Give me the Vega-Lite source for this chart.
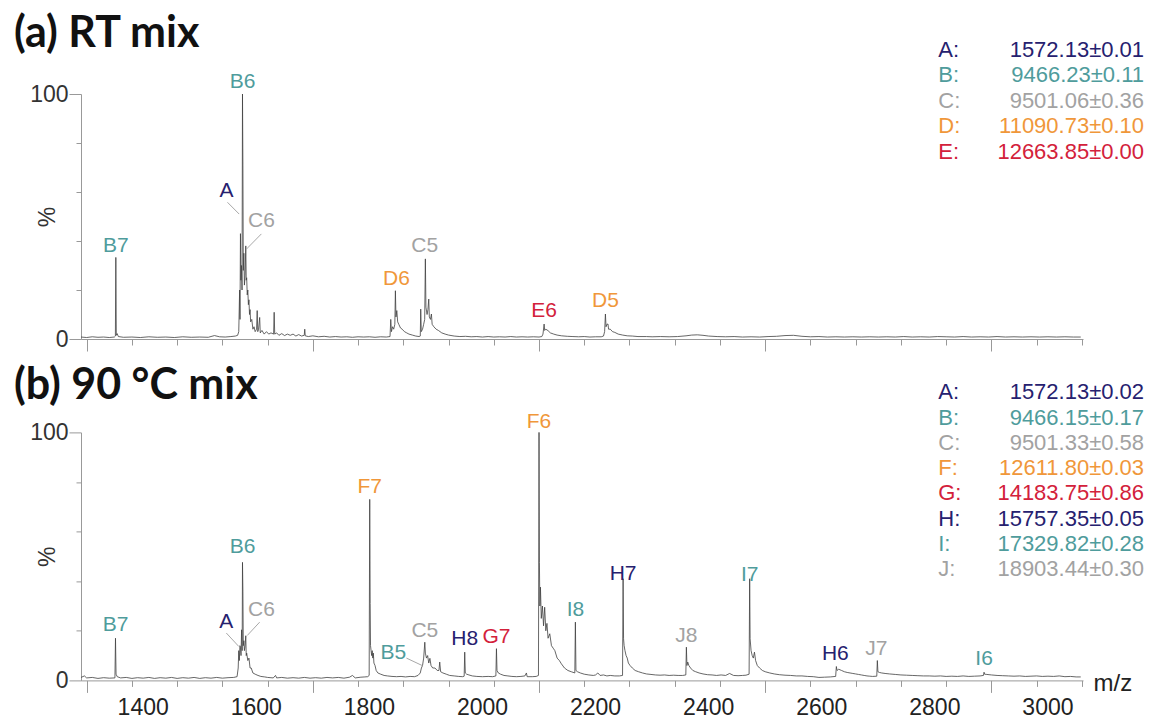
{
  "$schema": "https://vega.github.io/schema/vega-lite/v6.json",
  "background": "white",
  "padding": {"left": 13, "top": 13, "right": 4, "bottom": 4},
  "config": {"view": {"stroke": null}, "font": "Liberation Sans"},
  "bounds": "flush",
  "spacing": 93.4,
  "datasets": {
    "rt": [
      {"mz":1290,"i":0.8},{"mz":1300,"i":0.6},{"mz":1310,"i":0.9},{"mz":1320,"i":0.7},{"mz":1330,"i":0.8},{"mz":1340,"i":0.6},{"mz":1349,"i":0.8},{"mz":1350.8,"i":1.2},{"mz":1351.6,"i":33.3},{"mz":1352.4,"i":1.5},{"mz":1354,"i":2.2},{"mz":1356,"i":1.0},{"mz":1365,"i":0.7},{"mz":1380,"i":0.8},{"mz":1395,"i":0.6},{"mz":1410,"i":0.9},{"mz":1425,"i":0.7},{"mz":1440,"i":0.8},{"mz":1455,"i":0.6},{"mz":1470,"i":0.9},{"mz":1485,"i":0.7},{"mz":1500,"i":0.8},{"mz":1515,"i":0.7},{"mz":1526,"i":1.4},{"mz":1535,"i":0.9},{"mz":1545,"i":0.8},{"mz":1555,"i":1.0},{"mz":1563,"i":1.2},{"mz":1567,"i":1.5},{"mz":1569,"i":3},{"mz":1570.5,"i":20},{"mz":1571.2,"i":8},{"mz":1572,"i":43},{"mz":1572.8,"i":24},{"mz":1573.8,"i":30},{"mz":1574.8,"i":20},{"mz":1575.6,"i":100},{"mz":1576.3,"i":71},{"mz":1577,"i":28},{"mz":1578,"i":35},{"mz":1579,"i":22},{"mz":1580.2,"i":26},{"mz":1581.4,"i":38},{"mz":1582.2,"i":24},{"mz":1583,"i":25},{"mz":1584,"i":18},{"mz":1585,"i":20},{"mz":1586,"i":14},{"mz":1587,"i":16},{"mz":1588,"i":10},{"mz":1589,"i":12},{"mz":1590,"i":7},{"mz":1592,"i":8},{"mz":1594,"i":4},{"mz":1596,"i":5},{"mz":1598,"i":3},{"mz":1600.5,"i":4},{"mz":1601.6,"i":11.6},{"mz":1602.6,"i":3},{"mz":1604,"i":4},{"mz":1606,"i":8.8},{"mz":1607,"i":2.5},{"mz":1610,"i":3.5},{"mz":1614,"i":2},{"mz":1618,"i":3},{"mz":1622,"i":2},{"mz":1626,"i":2.5},{"mz":1630.6,"i":2},{"mz":1631.6,"i":10.9},{"mz":1632.6,"i":2},{"mz":1636,"i":2.5},{"mz":1640,"i":1.5},{"mz":1645,"i":2.2},{"mz":1650,"i":1.4},{"mz":1655,"i":2.0},{"mz":1660,"i":1.5},{"mz":1665,"i":2.0},{"mz":1670,"i":1.2},{"mz":1675,"i":1.8},{"mz":1680,"i":1.2},{"mz":1684.8,"i":1.5},{"mz":1685.7,"i":4},{"mz":1686.6,"i":1.3},{"mz":1692,"i":1.0},{"mz":1700,"i":1.3},{"mz":1710,"i":0.9},{"mz":1720,"i":1.1},{"mz":1730,"i":0.8},{"mz":1740,"i":1.0},{"mz":1750,"i":0.8},{"mz":1760,"i":0.9},{"mz":1770,"i":0.7},{"mz":1780,"i":0.9},{"mz":1790,"i":0.8},{"mz":1800,"i":0.9},{"mz":1810,"i":0.7},{"mz":1820,"i":0.9},{"mz":1830,"i":0.8},{"mz":1836.5,"i":1.0},{"mz":1837.8,"i":8},{"mz":1839,"i":3},{"mz":1841,"i":5},{"mz":1843,"i":4},{"mz":1845,"i":6},{"mz":1846,"i":19.7},{"mz":1847,"i":9},{"mz":1848.5,"i":11.6},{"mz":1850,"i":7},{"mz":1852,"i":6},{"mz":1855,"i":4.5},{"mz":1858,"i":4},{"mz":1862,"i":3},{"mz":1866,"i":2.5},{"mz":1870,"i":2},{"mz":1876,"i":1.6},{"mz":1882,"i":1.2},{"mz":1888,"i":1.0},{"mz":1890,"i":1.2},{"mz":1890.8,"i":12.2},{"mz":1891.8,"i":3},{"mz":1894,"i":4},{"mz":1896,"i":6},{"mz":1897.8,"i":8},{"mz":1899,"i":32.7},{"mz":1900,"i":13},{"mz":1902,"i":10},{"mz":1903.5,"i":12},{"mz":1905,"i":16.3},{"mz":1906,"i":9},{"mz":1908,"i":8},{"mz":1909.7,"i":10.2},{"mz":1911,"i":6},{"mz":1914,"i":5},{"mz":1918,"i":4},{"mz":1922,"i":3.5},{"mz":1928,"i":2.5},{"mz":1934,"i":2},{"mz":1940,"i":1.6},{"mz":1950,"i":1.2},{"mz":1960,"i":1.0},{"mz":1970,"i":1.1},{"mz":1980,"i":0.9},{"mz":1990,"i":1.0},{"mz":2000,"i":0.8},{"mz":2010,"i":1.0},{"mz":2020,"i":0.8},{"mz":2030,"i":0.9},{"mz":2040,"i":0.8},{"mz":2050,"i":1.0},{"mz":2060,"i":0.8},{"mz":2070,"i":0.9},{"mz":2080,"i":0.8},{"mz":2090,"i":0.9},{"mz":2100,"i":0.8},{"mz":2105,"i":1.0},{"mz":2107,"i":2},{"mz":2109,"i":6.1},{"mz":2110,"i":3.5},{"mz":2112,"i":4},{"mz":2116,"i":3.4},{"mz":2120,"i":2.5},{"mz":2126,"i":2},{"mz":2132,"i":1.6},{"mz":2140,"i":1.3},{"mz":2150,"i":1.1},{"mz":2160,"i":1.0},{"mz":2170,"i":0.9},{"mz":2180,"i":1.0},{"mz":2190,"i":0.8},{"mz":2200,"i":0.9},{"mz":2210,"i":0.9},{"mz":2214,"i":1.2},{"mz":2216,"i":3},{"mz":2217.4,"i":10.2},{"mz":2218.5,"i":5},{"mz":2220,"i":6},{"mz":2222,"i":6.1},{"mz":2223,"i":4},{"mz":2226,"i":4},{"mz":2230,"i":3},{"mz":2234,"i":2.7},{"mz":2240,"i":2},{"mz":2248,"i":1.6},{"mz":2256,"i":1.3},{"mz":2265,"i":1.2},{"mz":2275,"i":1.0},{"mz":2290,"i":1.0},{"mz":2300,"i":0.9},{"mz":2315,"i":1.0},{"mz":2330,"i":0.9},{"mz":2345,"i":1.0},{"mz":2360,"i":1.3},{"mz":2370,"i":1.6},{"mz":2380,"i":1.7},{"mz":2390,"i":1.5},{"mz":2400,"i":1.2},{"mz":2415,"i":1.0},{"mz":2430,"i":0.9},{"mz":2445,"i":1.0},{"mz":2460,"i":0.8},{"mz":2475,"i":0.9},{"mz":2490,"i":0.8},{"mz":2505,"i":1.0},{"mz":2520,"i":1.1},{"mz":2535,"i":1.4},{"mz":2550,"i":1.5},{"mz":2565,"i":1.1},{"mz":2580,"i":0.9},{"mz":2595,"i":1.0},{"mz":2610,"i":0.8},{"mz":2625,"i":0.9},{"mz":2640,"i":0.8},{"mz":2655,"i":0.9},{"mz":2670,"i":0.8},{"mz":2685,"i":0.9},{"mz":2700,"i":0.8},{"mz":2715,"i":0.9},{"mz":2730,"i":0.8},{"mz":2745,"i":1.0},{"mz":2760,"i":0.8},{"mz":2775,"i":0.9},{"mz":2790,"i":0.8},{"mz":2805,"i":1.0},{"mz":2820,"i":0.9},{"mz":2835,"i":0.8},{"mz":2850,"i":1.0},{"mz":2865,"i":0.8},{"mz":2880,"i":0.9},{"mz":2895,"i":0.8},{"mz":2910,"i":1.0},{"mz":2925,"i":0.8},{"mz":2940,"i":0.9},{"mz":2955,"i":0.8},{"mz":2970,"i":0.9},{"mz":2985,"i":0.8},{"mz":3000,"i":0.9},{"mz":3015,"i":0.8},{"mz":3030,"i":0.9},{"mz":3045,"i":0.8},{"mz":3058,"i":0.8}
    ],
    "hot": [
      {"mz":1290,"i":1.2},{"mz":1296,"i":1.8},{"mz":1300,"i":1.0},{"mz":1310,"i":1.2},{"mz":1320,"i":0.8},{"mz":1330,"i":1.1},{"mz":1340,"i":0.9},{"mz":1350,"i":1.0},{"mz":1351,"i":17},{"mz":1352,"i":2.5},{"mz":1354,"i":1.5},{"mz":1360,"i":1.0},{"mz":1370,"i":1.2},{"mz":1380,"i":0.8},{"mz":1390,"i":1.1},{"mz":1400,"i":0.9},{"mz":1410,"i":1.2},{"mz":1420,"i":0.8},{"mz":1430,"i":1.1},{"mz":1440,"i":0.9},{"mz":1450,"i":1.2},{"mz":1460,"i":0.8},{"mz":1470,"i":1.1},{"mz":1480,"i":0.9},{"mz":1490,"i":1.2},{"mz":1500,"i":0.8},{"mz":1510,"i":1.1},{"mz":1520,"i":0.9},{"mz":1530,"i":1.2},{"mz":1540,"i":0.9},{"mz":1550,"i":1.1},{"mz":1560,"i":1.2},{"mz":1566,"i":1.5},{"mz":1568,"i":5},{"mz":1569,"i":12},{"mz":1570,"i":8},{"mz":1571,"i":14},{"mz":1572,"i":13.4},{"mz":1573,"i":10},{"mz":1574,"i":20.4},{"mz":1575,"i":12},{"mz":1575.6,"i":47.6},{"mz":1576.3,"i":36},{"mz":1577,"i":14},{"mz":1578,"i":16},{"mz":1579,"i":12},{"mz":1580.2,"i":14},{"mz":1581.4,"i":18},{"mz":1582.2,"i":10},{"mz":1583,"i":11},{"mz":1585,"i":8},{"mz":1587,"i":9},{"mz":1589,"i":5},{"mz":1591,"i":5},{"mz":1594,"i":3},{"mz":1598,"i":2.5},{"mz":1603,"i":2},{"mz":1608,"i":1.6},{"mz":1615,"i":1.4},{"mz":1620,"i":1.2},{"mz":1630,"i":1.0},{"mz":1634,"i":2.0},{"mz":1636,"i":1.0},{"mz":1645,"i":1.2},{"mz":1655,"i":0.9},{"mz":1665,"i":1.1},{"mz":1675,"i":0.9},{"mz":1685,"i":1.2},{"mz":1695,"i":0.9},{"mz":1705,"i":1.1},{"mz":1715,"i":0.9},{"mz":1725,"i":1.2},{"mz":1735,"i":1.0},{"mz":1745,"i":1.2},{"mz":1755,"i":0.9},{"mz":1765,"i":1.3},{"mz":1770,"i":2.0},{"mz":1775,"i":1.0},{"mz":1785,"i":1.3},{"mz":1792,"i":1.4},{"mz":1797,"i":1.5},{"mz":1799.6,"i":2},{"mz":1800.6,"i":73},{"mz":1801.4,"i":31},{"mz":1802,"i":14},{"mz":1803,"i":12},{"mz":1804,"i":10},{"mz":1805,"i":12},{"mz":1806,"i":9},{"mz":1807,"i":11},{"mz":1808,"i":7},{"mz":1810,"i":6},{"mz":1812,"i":4},{"mz":1815,"i":3},{"mz":1820,"i":2.5},{"mz":1826,"i":2},{"mz":1832,"i":1.8},{"mz":1840,"i":1.6},{"mz":1848,"i":1.5},{"mz":1856,"i":1.6},{"mz":1864,"i":1.4},{"mz":1872,"i":1.6},{"mz":1880,"i":1.5},{"mz":1886,"i":2},{"mz":1890,"i":3},{"mz":1892,"i":5},{"mz":1894,"i":6},{"mz":1896,"i":9},{"mz":1898,"i":15.4},{"mz":1899,"i":11},{"mz":1901,"i":9},{"mz":1903,"i":10},{"mz":1905,"i":7},{"mz":1907,"i":8.9},{"mz":1909,"i":6},{"mz":1912,"i":5},{"mz":1916,"i":5},{"mz":1920,"i":4},{"mz":1923,"i":4},{"mz":1924.4,"i":7.4},{"mz":1926,"i":3.5},{"mz":1930,"i":3},{"mz":1936,"i":2.5},{"mz":1942,"i":2},{"mz":1950,"i":1.8},{"mz":1958,"i":1.6},{"mz":1965,"i":1.5},{"mz":1967.6,"i":1.7},{"mz":1968.6,"i":11.4},{"mz":1969.6,"i":3},{"mz":1972,"i":2.5},{"mz":1976,"i":2.2},{"mz":1982,"i":1.8},{"mz":1990,"i":1.6},{"mz":2000,"i":1.5},{"mz":2010,"i":1.6},{"mz":2018,"i":1.5},{"mz":2023.7,"i":1.8},{"mz":2024.7,"i":12.8},{"mz":2025.7,"i":4},{"mz":2028,"i":3},{"mz":2032,"i":2.5},{"mz":2038,"i":2},{"mz":2045,"i":1.8},{"mz":2052,"i":1.6},{"mz":2060,"i":1.5},{"mz":2068,"i":1.6},{"mz":2075,"i":1.8},{"mz":2077.7,"i":3},{"mz":2079,"i":1.5},{"mz":2088,"i":1.5},{"mz":2095,"i":1.6},{"mz":2099,"i":2},{"mz":2100,"i":100},{"mz":2100.7,"i":47.6},{"mz":2101.5,"i":30},{"mz":2102.5,"i":37.6},{"mz":2104,"i":25},{"mz":2106,"i":30},{"mz":2108,"i":22},{"mz":2110,"i":29.5},{"mz":2112,"i":20},{"mz":2114,"i":23},{"mz":2116,"i":17},{"mz":2119,"i":18.8},{"mz":2122,"i":14},{"mz":2125,"i":13},{"mz":2128,"i":12},{"mz":2132,"i":9},{"mz":2136,"i":8},{"mz":2139.5,"i":6.7},{"mz":2145,"i":5},{"mz":2151,"i":4},{"mz":2157,"i":3.5},{"mz":2163.3,"i":3},{"mz":2164.3,"i":23.5},{"mz":2165.3,"i":4},{"mz":2168,"i":3.5},{"mz":2173,"i":3},{"mz":2180,"i":2.5},{"mz":2188,"i":2.2},{"mz":2196,"i":2},{"mz":2200,"i":2.2},{"mz":2204,"i":3},{"mz":2208,"i":2},{"mz":2214,"i":2.2},{"mz":2220,"i":1.8},{"mz":2226,"i":2},{"mz":2234,"i":1.8},{"mz":2242,"i":1.8},{"mz":2247.7,"i":2},{"mz":2248.7,"i":41},{"mz":2249.5,"i":16.8},{"mz":2250.5,"i":14},{"mz":2252,"i":12},{"mz":2254,"i":10},{"mz":2256,"i":9},{"mz":2258,"i":7},{"mz":2261,"i":6},{"mz":2265,"i":5},{"mz":2270,"i":4},{"mz":2276,"i":3.5},{"mz":2283,"i":3},{"mz":2290,"i":2.6},{"mz":2298,"i":2.4},{"mz":2306,"i":2.2},{"mz":2314,"i":2.1},{"mz":2322,"i":2.2},{"mz":2330,"i":2},{"mz":2338,"i":2.1},{"mz":2346,"i":2},{"mz":2354,"i":2},{"mz":2359.6,"i":2.2},{"mz":2360.6,"i":13.4},{"mz":2361.6,"i":6},{"mz":2363,"i":7.4},{"mz":2365,"i":6},{"mz":2368,"i":5},{"mz":2372,"i":4},{"mz":2377,"i":3.5},{"mz":2383,"i":3},{"mz":2390,"i":2.6},{"mz":2398,"i":2.3},{"mz":2406,"i":2.2},{"mz":2414,"i":2.0},{"mz":2422,"i":2.2},{"mz":2430,"i":2.0},{"mz":2437,"i":2.8},{"mz":2444,"i":2.0},{"mz":2452,"i":1.9},{"mz":2460,"i":2.0},{"mz":2466,"i":2.1},{"mz":2471.5,"i":2.5},{"mz":2472.5,"i":41},{"mz":2473.3,"i":16.8},{"mz":2475,"i":12},{"mz":2477,"i":10},{"mz":2479,"i":9},{"mz":2481,"i":11.4},{"mz":2483,"i":8},{"mz":2486,"i":6},{"mz":2490,"i":5},{"mz":2495,"i":4},{"mz":2500,"i":3.5},{"mz":2508,"i":3},{"mz":2516,"i":2.6},{"mz":2525,"i":2.3},{"mz":2535,"i":2.1},{"mz":2545,"i":2.0},{"mz":2555,"i":1.8},{"mz":2565,"i":1.8},{"mz":2575,"i":1.6},{"mz":2585,"i":1.5},{"mz":2595,"i":1.2},{"mz":2605,"i":1.3},{"mz":2615,"i":1.4},{"mz":2624.6,"i":1.6},{"mz":2625.8,"i":5.6},{"mz":2627,"i":4},{"mz":2630,"i":4.5},{"mz":2635,"i":4},{"mz":2640,"i":3.5},{"mz":2645,"i":3.2},{"mz":2650,"i":3},{"mz":2655,"i":2.8},{"mz":2660,"i":2.6},{"mz":2665,"i":2.4},{"mz":2670,"i":2.2},{"mz":2675,"i":2.0},{"mz":2680,"i":1.8},{"mz":2685,"i":1.7},{"mz":2690,"i":1.6},{"mz":2697.3,"i":1.7},{"mz":2698.3,"i":8},{"mz":2699.3,"i":3.5},{"mz":2702,"i":3.2},{"mz":2706,"i":3},{"mz":2712,"i":2.8},{"mz":2720,"i":2.6},{"mz":2730,"i":2.4},{"mz":2740,"i":2.2},{"mz":2750,"i":2.1},{"mz":2760,"i":2.0},{"mz":2770,"i":1.9},{"mz":2780,"i":1.8},{"mz":2790,"i":1.8},{"mz":2800,"i":1.7},{"mz":2810,"i":1.8},{"mz":2820,"i":1.6},{"mz":2830,"i":1.7},{"mz":2840,"i":1.6},{"mz":2850,"i":1.8},{"mz":2860,"i":1.6},{"mz":2870,"i":1.7},{"mz":2880,"i":1.8},{"mz":2886,"i":2},{"mz":2887,"i":3.3},{"mz":2888,"i":2.5},{"mz":2892,"i":2.4},{"mz":2900,"i":2.2},{"mz":2910,"i":2.0},{"mz":2920,"i":1.9},{"mz":2930,"i":1.8},{"mz":2940,"i":1.7},{"mz":2950,"i":1.8},{"mz":2960,"i":1.6},{"mz":2970,"i":1.7},{"mz":2980,"i":1.8},{"mz":2990,"i":1.6},{"mz":3000,"i":1.7},{"mz":3010,"i":1.6},{"mz":3020,"i":1.8},{"mz":3030,"i":1.5},{"mz":3040,"i":1.6},{"mz":3050,"i":1.4},{"mz":3058,"i":1.4}
    ],
    "labA": [
      {"sp":"B","label":"B7","mz":1351.6,"ly":38.1},
      {"sp":"A","label":"A","mz":1547.3,"ly":60.5},
      {"sp":"B","label":"B6","mz":1575.6,"ly":105},
      {"sp":"C","label":"C6","mz":1609,"ly":48},
      {"sp":"D","label":"D6","mz":1847.8,"ly":24.6},
      {"sp":"C","label":"C5","mz":1897.9,"ly":38.1},
      {"sp":"E","label":"E6","mz":2109,"ly":11.6},
      {"sp":"D","label":"D5","mz":2217.4,"ly":15.6}
    ],
    "labB": [
      {"sp":"B","label":"B7","mz":1351,"ly":22.2},
      {"sp":"A","label":"A","mz":1547,"ly":23.5},
      {"sp":"B","label":"B6","mz":1575.6,"ly":53.7},
      {"sp":"C","label":"C6","mz":1609,"ly":28.5},
      {"sp":"F","label":"F7","mz":1800.6,"ly":77.8},
      {"sp":"B","label":"B5","mz":1842.5,"ly":10.9},
      {"sp":"C","label":"C5","mz":1898,"ly":20.1},
      {"sp":"H","label":"H8","mz":1968.6,"ly":16.8},
      {"sp":"G","label":"G7","mz":2024.7,"ly":17.4},
      {"sp":"F","label":"F6","mz":2100,"ly":104.2},
      {"sp":"I","label":"I8","mz":2164.3,"ly":28.5},
      {"sp":"H","label":"H7","mz":2248.7,"ly":43.1},
      {"sp":"J","label":"J8","mz":2360.6,"ly":18.1},
      {"sp":"I","label":"I7","mz":2472.5,"ly":42.3},
      {"sp":"H","label":"H6","mz":2624,"ly":10.7},
      {"sp":"J","label":"J7","mz":2696.5,"ly":12.8},
      {"sp":"I","label":"I6","mz":2887,"ly":8.7}
    ],
    "leadA": [
      {"m1":1549,"y1":55.8,"m2":1569.7,"y2":51},
      {"m1":1609,"y1":42.9,"m2":1582.6,"y2":36.7}
    ],
    "leadB": [
      {"m1":1547,"y1":19.1,"m2":1569,"y2":13.7},
      {"m1":1606,"y1":23.5,"m2":1584,"y2":18.1},
      {"m1":1865.5,"y1":9.0,"m2":1893.3,"y2":6.0}
    ],
    "legA": [
      {"sp":"A","key":"A:","mass":"1572.13±0.01"},
      {"sp":"B","key":"B:","mass":"9466.23±0.11"},
      {"sp":"C","key":"C:","mass":"9501.06±0.36"},
      {"sp":"D","key":"D:","mass":"11090.73±0.10"},
      {"sp":"E","key":"E:","mass":"12663.85±0.00"}
    ],
    "legB": [
      {"sp":"A","key":"A:","mass":"1572.13±0.02"},
      {"sp":"B","key":"B:","mass":"9466.15±0.17"},
      {"sp":"C","key":"C:","mass":"9501.33±0.58"},
      {"sp":"F","key":"F:","mass":"12611.80±0.03"},
      {"sp":"G","key":"G:","mass":"14183.75±0.86"},
      {"sp":"H","key":"H:","mass":"15757.35±0.05"},
      {"sp":"I","key":"I:","mass":"17329.82±0.28"},
      {"sp":"J","key":"J:","mass":"18903.44±0.30"}
    ],
    "xticks": [
      {"v":1400},{"v":1600},{"v":1800},{"v":2000},{"v":2200},{"v":2400},{"v":2600},{"v":2800},{"v":3000}
    ]
  },
  "vconcat": [
    {
      "width": 1002,
      "height": 245,
      "resolve": {"scale": {"y": "independent"}, "axis": {"y": "independent"}},
      "layer": [
        {
          "layer": [
            {
              "data": {"name": "rt"},
              "mark": {"type": "line", "color": "#404040", "strokeWidth": 0.8},
              "encoding": {
                "x": {"field": "mz", "type": "quantitative", "scale": {"domain": [1290, 3062], "nice": false, "zero": false},
                  "axis": {"values": [1300,1320,1340,1360,1380,1400,1420,1440,1460,1480,1500,1520,1540,1560,1580,1600,1620,1640,1660,1680,1700,1720,1740,1760,1780,1800,1820,1840,1860,1880,1900,1920,1940,1960,1980,2000,2020,2040,2060,2080,2100,2120,2140,2160,2180,2200,2220,2240,2260,2280,2300,2320,2340,2360,2380,2400,2420,2440,2460,2480,2500,2520,2540,2560,2580,2600,2620,2640,2660,2680,2700,2720,2740,2760,2780,2800,2820,2840,2860,2880,2900,2920,2940,2960,2980,3000,3020,3040,3060],
                    "labels": false, "title": null, "grid": false, "domainColor": "#999999", "tickColor": "#999999", "tickWidth": 1, "tickSize": 12,
                    "tickDash": {"condition": {"test": "datum.value % 100 !== 0", "value": [6, 40]}, "value": [40, 0]}}},
                "y": {"field": "i", "type": "quantitative", "scale": {"domain": [0, 100], "nice": false},
                  "axis": {"values": [0,10,20,30,40,50,60,70,80,90,100], "labelExpr": "datum.value === 0 || datum.value === 100 ? datum.label : ''",
                    "grid": false, "domainColor": "#999999", "tickColor": "#999999", "labelFontSize": 23, "labelColor": "#333333", "labelPadding": 1, "tickSize": 12,
                    "tickDash": {"condition": {"test": "datum.value !== 0 && datum.value !== 100", "value": [5, 40]}, "value": [40, 0]},
                    "title": "%", "titleFontSize": 23, "titleFontWeight": "normal", "titleColor": "#333333", "titleX": -34, "titleY": 122.5, "titleBaseline": "middle", "titleAngle": 270}}
              }
            },
            {
              "data": {"name": "leadA"},
              "mark": {"type": "rule", "color": "#a8a8a8", "strokeWidth": 1},
              "encoding": {
                "x": {"field": "m1", "type": "quantitative"},
                "x2": {"field": "m2"},
                "y": {"field": "y1", "type": "quantitative"},
                "y2": {"field": "y2"}
              }
            },
            {
              "data": {"name": "labA"},
              "mark": {"type": "text", "fontSize": 21, "font": "Liberation Sans", "baseline": "middle", "align": "center"},
              "encoding": {
                "x": {"field": "mz", "type": "quantitative"},
                "y": {"field": "ly", "type": "quantitative"},
                "text": {"field": "label"},
                "color": {"field": "sp", "type": "nominal", "legend": null, "scale": {"domain": ["A","B","C","D","E","F","G","H","I","J"], "range": ["#26216f","#4f9c9c","#a2a2a2","#f0973a","#d3213b","#f0973a","#d3213b","#26216f","#4f9c9c","#a2a2a2"]}}
              }
            },
            {
              "data": {"values": [{"t": "(a) RT mix"}]},
              "mark": {"type": "text", "font": "Lato", "fontSize": 43, "fontWeight": "bold", "color": "#111111", "align": "left", "baseline": "alphabetic"},
              "encoding": {
                "x": {"datum": 1171.5, "type": "quantitative"},
                "y": {"datum": 119, "type": "quantitative"},
                "text": {"field": "t"}
              }
            }
          ]
        },
        {
          "data": {"name": "legA"},
          "encoding": {
            "y": {"field": "sp", "type": "ordinal", "axis": null, "scale": {"type": "point", "padding": 0, "domain": ["A","B","C","D","E"], "range": [-44, 57.5]}},
            "color": {"field": "sp", "type": "nominal", "legend": null, "scale": {"domain": ["A","B","C","D","E","F","G","H","I","J"], "range": ["#26216f","#4f9c9c","#a2a2a2","#f0973a","#d3213b","#f0973a","#d3213b","#26216f","#4f9c9c","#a2a2a2"]}}
          },
          "layer": [
            {
              "mark": {"type": "text", "fontSize": 22, "font": "Liberation Sans", "baseline": "middle", "align": "left"},
              "encoding": {"x": {"datum": 2806, "type": "quantitative"}, "text": {"field": "key"}}
            },
            {
              "mark": {"type": "text", "fontSize": 22, "font": "Liberation Sans", "baseline": "middle", "align": "right"},
              "encoding": {"x": {"datum": 3170, "type": "quantitative"}, "text": {"field": "mass"}}
            }
          ]
        }
      ]
    },
    {
      "width": 1002,
      "height": 248,
      "resolve": {"scale": {"y": "independent"}, "axis": {"y": "independent"}},
      "layer": [
        {
          "layer": [
            {
              "data": {"name": "hot"},
              "mark": {"type": "line", "color": "#404040", "strokeWidth": 0.8},
              "encoding": {
                "x": {"field": "mz", "type": "quantitative", "scale": {"domain": [1290, 3062], "nice": false, "zero": false},
                  "axis": {"values": [1300,1320,1340,1360,1380,1400,1420,1440,1460,1480,1500,1520,1540,1560,1580,1600,1620,1640,1660,1680,1700,1720,1740,1760,1780,1800,1820,1840,1860,1880,1900,1920,1940,1960,1980,2000,2020,2040,2060,2080,2100,2120,2140,2160,2180,2200,2220,2240,2260,2280,2300,2320,2340,2360,2380,2400,2420,2440,2460,2480,2500,2520,2540,2560,2580,2600,2620,2640,2660,2680,2700,2720,2740,2760,2780,2800,2820,2840,2860,2880,2900,2920,2940,2960,2980,3000,3020,3040,3060],
                    "labels": false,
                    "grid": false, "domainColor": "#999999", "tickColor": "#999999", "tickWidth": 1, "tickSize": 12,
                    "tickDash": {"condition": {"test": "datum.value % 100 !== 0", "value": [6, 40]}, "value": [40, 0]},
                    "title": "m/z", "titleFontSize": 24, "titleFontWeight": "normal", "titleColor": "#222222", "titleX": 1012, "titleY": 10, "titleAlign": "left", "titleBaseline": "alphabetic"}},
                "y": {"field": "i", "type": "quantitative", "scale": {"domain": [0, 100], "nice": false},
                  "axis": {"values": [0,10,20,30,40,50,60,70,80,90,100], "labelExpr": "datum.value === 0 || datum.value === 100 ? datum.label : ''",
                    "grid": false, "domainColor": "#999999", "tickColor": "#999999", "labelFontSize": 23, "labelColor": "#333333", "labelPadding": 1, "tickSize": 12,
                    "tickDash": {"condition": {"test": "datum.value !== 0 && datum.value !== 100", "value": [5, 40]}, "value": [40, 0]},
                    "title": "%", "titleFontSize": 23, "titleFontWeight": "normal", "titleColor": "#333333", "titleX": -34, "titleY": 124, "titleBaseline": "middle", "titleAngle": 270}}
              }
            },
            {
              "data": {"name": "xticks"},
              "mark": {"type": "text", "fontSize": 23, "font": "Liberation Sans", "color": "#222222", "baseline": "middle", "align": "center"},
              "encoding": {
                "x": {"field": "v", "type": "quantitative"},
                "y": {"datum": -11.3, "type": "quantitative"},
                "text": {"field": "v", "type": "nominal"}
              }
            },
            {
              "data": {"name": "leadB"},
              "mark": {"type": "rule", "color": "#a8a8a8", "strokeWidth": 1},
              "encoding": {
                "x": {"field": "m1", "type": "quantitative"},
                "x2": {"field": "m2"},
                "y": {"field": "y1", "type": "quantitative"},
                "y2": {"field": "y2"}
              }
            },
            {
              "data": {"name": "labB"},
              "mark": {"type": "text", "fontSize": 21, "font": "Liberation Sans", "baseline": "middle", "align": "center"},
              "encoding": {
                "x": {"field": "mz", "type": "quantitative"},
                "y": {"field": "ly", "type": "quantitative"},
                "text": {"field": "label"},
                "color": {"field": "sp", "type": "nominal", "legend": null, "scale": {"domain": ["A","B","C","D","E","F","G","H","I","J"], "range": ["#26216f","#4f9c9c","#a2a2a2","#f0973a","#d3213b","#f0973a","#d3213b","#26216f","#4f9c9c","#a2a2a2"]}}
              }
            },
            {
              "data": {"values": [{"t": "(b) 90 °C mix"}]},
              "mark": {"type": "text", "font": "Lato", "fontSize": 43, "fontWeight": "bold", "color": "#111111", "align": "left", "baseline": "alphabetic"},
              "encoding": {
                "x": {"datum": 1171.5, "type": "quantitative"},
                "y": {"datum": 113.5, "type": "quantitative"},
                "text": {"field": "t"}
              }
            }
          ]
        },
        {
          "data": {"name": "legB"},
          "encoding": {
            "y": {"field": "sp", "type": "ordinal", "axis": null, "scale": {"type": "point", "padding": 0, "domain": ["A","B","C","F","G","H","I","J"], "range": [-40, 136.6]}},
            "color": {"field": "sp", "type": "nominal", "legend": null, "scale": {"domain": ["A","B","C","D","E","F","G","H","I","J"], "range": ["#26216f","#4f9c9c","#a2a2a2","#f0973a","#d3213b","#f0973a","#d3213b","#26216f","#4f9c9c","#a2a2a2"]}}
          },
          "layer": [
            {
              "mark": {"type": "text", "fontSize": 22, "font": "Liberation Sans", "baseline": "middle", "align": "left"},
              "encoding": {"x": {"datum": 2806, "type": "quantitative"}, "text": {"field": "key"}}
            },
            {
              "mark": {"type": "text", "fontSize": 22, "font": "Liberation Sans", "baseline": "middle", "align": "right"},
              "encoding": {"x": {"datum": 3170, "type": "quantitative"}, "text": {"field": "mass"}}
            }
          ]
        }
      ]
    }
  ]
}
